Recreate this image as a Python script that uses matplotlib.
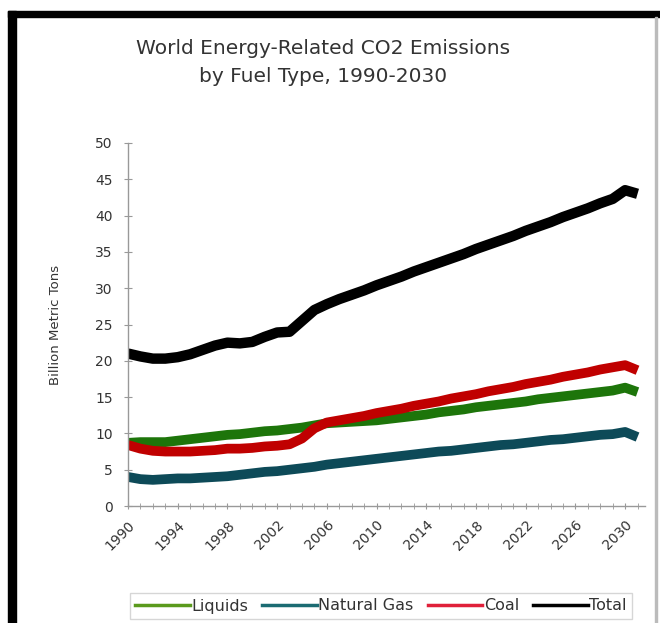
import matplotlib.pyplot as plt
import matplotlib.patches as mpatches
import numpy as np

years = np.arange(1990, 2032)

liquids = [8.7, 8.8, 8.8, 8.8, 9.0, 9.2, 9.4, 9.6, 9.8, 9.9, 10.1, 10.3, 10.4, 10.6, 10.8, 11.1, 11.4,
           11.5, 11.6, 11.7, 11.8, 12.0, 12.2, 12.4, 12.6, 12.9, 13.1, 13.3, 13.6, 13.8, 14.0,
           14.2, 14.4, 14.7, 14.9, 15.1, 15.3, 15.5, 15.7, 15.9, 16.3, 15.7]
natural_gas = [4.0, 3.7, 3.6, 3.7, 3.8, 3.8, 3.9, 4.0, 4.1, 4.3, 4.5, 4.7, 4.8, 5.0, 5.2, 5.4, 5.7,
               5.9, 6.1, 6.3, 6.5, 6.7, 6.9, 7.1, 7.3, 7.5, 7.6, 7.8, 8.0, 8.2, 8.4,
               8.5, 8.7, 8.9, 9.1, 9.2, 9.4, 9.6, 9.8, 9.9, 10.2, 9.5]
coal = [8.4, 7.9, 7.6, 7.5, 7.5, 7.5, 7.6, 7.7, 7.9, 7.9, 8.0, 8.2, 8.3, 8.5, 9.3, 10.7, 11.5,
        11.8, 12.1, 12.4, 12.8, 13.1, 13.4, 13.8, 14.1, 14.4, 14.8, 15.1, 15.4, 15.8, 16.1,
        16.4, 16.8, 17.1, 17.4, 17.8, 18.1, 18.4, 18.8, 19.1, 19.4, 18.7]
total = [21.0, 20.6, 20.3, 20.3, 20.5, 20.9, 21.5, 22.1, 22.5, 22.4, 22.6, 23.3, 23.9, 24.0, 25.5,
         27.0, 27.8, 28.5, 29.1, 29.7, 30.4, 31.0, 31.6, 32.3, 32.9, 33.5, 34.1, 34.7, 35.4,
         36.0, 36.6, 37.2, 37.9, 38.5, 39.1, 39.8, 40.4, 41.0, 41.7, 42.3, 43.5, 43.0]

label_years = np.arange(1990, 2031, 4)

fig = plt.figure(figsize=(6.6, 6.23), dpi=100)
W, H = 660, 623

# black frame of the screenshot
fig.patches.append(mpatches.Rectangle((8 / W, 1 - 17 / H), 1, 6 / H, transform=fig.transFigure,
                                      color='black', zorder=5))
fig.patches.append(mpatches.Rectangle((8 / W, 0), 8 / W, 1 - 11 / H, transform=fig.transFigure,
                                      color='black', zorder=5))
fig.patches.append(mpatches.Rectangle((655 / W, 0), 2 / W, 1 - 17 / H, transform=fig.transFigure,
                                      color='#bbbbbb', zorder=5))

ax = fig.add_axes([128 / W, 1 - 506 / H, 517 / W, 363 / H])

style = dict(solid_capstyle='butt', solid_joinstyle='round')
ax.plot(years, liquids, color='#1d750a', lw=7, label='Liquids', **style)
ax.plot(years, natural_gas, color='#0d4a58', lw=7, label='Natural Gas', **style)
ax.plot(years, coal, color='#c00000', lw=7, label='Coal', **style)
ax.plot(years, total, color='black', lw=7.5, label='Total', **style)

ax.set_xlim(1990, 2031.6)
ax.set_ylim(0, 50)
ax.set_yticks(np.arange(0, 51, 5))
ax.set_xticks(label_years)
ax.set_xticks(years, minor=True)
ax.set_xticklabels([str(y) for y in label_years], rotation=45, ha='right',
                   rotation_mode='anchor', fontsize=10, color='#333333')
ax.tick_params(axis='y', labelsize=10, labelcolor='#333333', direction='inout', length=6,
               color='#999999', pad=8)
ax.tick_params(axis='x', which='both', direction='inout', length=5, color='#999999', pad=6)

for s in ['top', 'right']:
    ax.spines[s].set_visible(False)
for s in ['left', 'bottom']:
    ax.spines[s].set_color('#999999')
    ax.spines[s].set_linewidth(1)

ax.set_ylabel('Billion Metric Tons', fontsize=9.5, color='#333333', labelpad=24)

fig.text(0.49, 1 - 63 / H, 'World Energy-Related CO2 Emissions\nby Fuel Type, 1990-2030',
         ha='center', va='center', fontsize=14.5, color='#333333', linespacing=1.6)

handles = [plt.Line2D([], [], color=c, lw=2.5) for c in ['#5a9a1c', '#1b6b72', '#e0203a', 'black']]
leg = fig.legend(handles, ['Liquids', 'Natural Gas', 'Coal', 'Total'], loc='center',
                 bbox_to_anchor=(381 / W, 1 - 606 / H), ncol=4, fontsize=11.5, frameon=True,
                 fancybox=False, edgecolor='#cccccc', handlelength=3.4, handletextpad=0.1,
                 columnspacing=0.9, borderpad=0.35)
for t in leg.get_texts():
    t.set_color('#333333')

fig.savefig('out.png', dpi=100, facecolor='white')
